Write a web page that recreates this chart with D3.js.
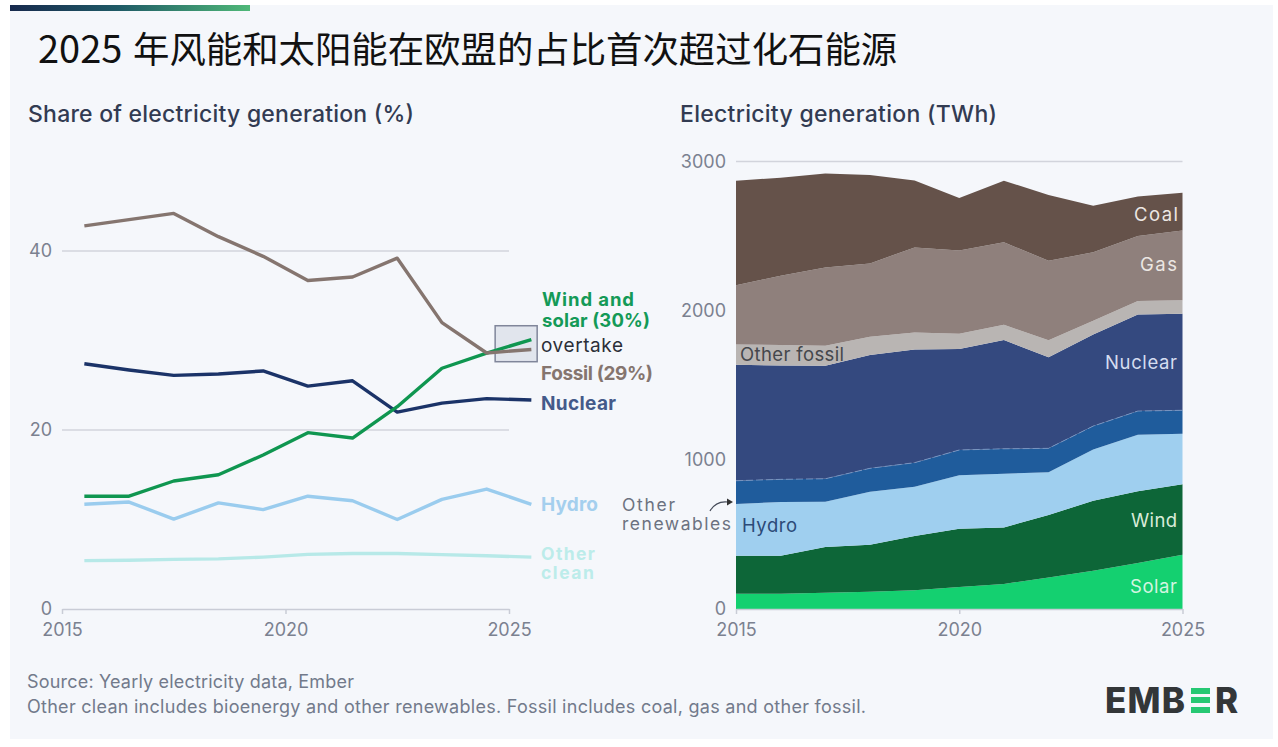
<!DOCTYPE html>
<html>
<head>
<meta charset="utf-8">
<script src="https://cdn.jsdelivr.net/npm/d3@7"></script>
<style>
  body { margin: 0; background: #fff; }
  svg { display: block; }
  text { font-family: Inter, "Noto Sans", sans-serif; }
  .domain { stroke: #c9ccd6; stroke-width: 1.5; }
  .tick line { stroke: #c9ccd6; stroke-width: 1.5; }
  .tick text { fill: #7b8190; font-size: 18px; font-family: Inter, sans-serif; }
</style>
</head>
<body>
<svg id="chart" width="1278" height="747"></svg>
<script>
var years = [2015, 2016, 2017, 2018, 2019, 2020, 2021, 2022, 2023, 2024, 2025];

// left chart, share of generation (%)
var fossilShare = [42.8, 43.5, 44.2, 41.6, 39.4, 36.7, 37.1, 39.2, 32.0, 28.6, 29.0];
var windSolarShare = [12.6, 12.6, 14.3, 15.0, 17.2, 19.7, 19.1, 22.6, 26.9, 28.6, 30.1];
var nuclearShare = [27.4, 26.7, 26.1, 26.25, 26.6, 24.9, 25.5, 22.0, 23.0, 23.5, 23.35];
var hydroShare = [11.7, 11.95, 10.05, 11.85, 11.1, 12.6, 12.1, 10.0, 12.25, 13.4, 11.7];
var otherCleanShare = [5.4, 5.45, 5.55, 5.6, 5.8, 6.1, 6.2, 6.2, 6.07, 5.95, 5.8];

// right chart, generation (TWh)
var solar = [103, 103, 109, 116, 125, 147, 168, 212, 257, 308, 364];
var wind = [254, 254, 306, 315, 364, 391, 379, 418, 469, 481, 472];
var hydro = [347, 360, 304, 355, 331, 358, 360, 286, 344, 379, 339];
var otherRenewables = [156, 152, 154, 157, 161, 170, 167, 161, 156, 159, 157];
var nuclear = [777, 764, 758, 759, 759, 677, 729, 610, 615, 648, 647];
var otherFossil = [137, 136, 134, 123, 114, 102, 103, 114, 91, 89, 90];
var gas = [397, 465, 525, 492, 570, 559, 552, 534, 459, 436, 469];
var coal = [700, 657, 630, 592, 449, 351, 413, 440, 312, 266, 252];

var svg = d3.select("#chart");
var defs = svg.append("defs");

// panel background and top strip
var grad = defs.append("linearGradient").attr("id", "strip");
grad.append("stop").attr("offset", "0%").attr("stop-color", "#17294d");
grad.append("stop").attr("offset", "45%").attr("stop-color", "#1f5a66");
grad.append("stop").attr("offset", "100%").attr("stop-color", "#4fb878");

svg.append("rect").attr("x", 10).attr("y", 5).attr("width", 1263).attr("height", 734).attr("fill", "#f5f7fb");
svg.append("rect").attr("x", 10).attr("y", 5).attr("width", 240).attr("height", 6).attr("fill", "url(#strip)");

var title = svg.append("text").attr("y", 63).attr("fill", "#111")
    .style("font-family", '"Noto Sans CJK SC", sans-serif');
title.append("tspan").attr("x", 38).attr("font-size", 38).text("2025 ");
title.append("tspan").attr("x", 133).attr("font-size", 36.4).text("年风能和太阳能在欧盟的占比首次超过化石能源");

// ---- left chart ----
var xL = d3.scaleLinear().domain([2015, 2025]).range([62, 509]);
var yL = d3.scaleLinear().domain([0, 40]).range([609, 251]);

svg.append("g").attr("transform", "translate(0,609)")
    .call(d3.axisBottom(xL).tickValues([2015, 2020, 2025]).tickFormat(d3.format("d")).tickSize(5).tickPadding(9)
        .tickSizeOuter(0));

var leftY = svg.append("g").attr("transform", "translate(62,0)")
    .call(d3.axisLeft(yL).tickValues([0, 20, 40]).tickSize(0).tickPadding(10));
leftY.select(".domain").remove();

svg.append("g").selectAll("line").data([20, 40]).join("line")
    .attr("x1", xL(2015)).attr("x2", xL(2025))
    .attr("y1", d => yL(d)).attr("y2", d => yL(d))
    .attr("stroke", "#d2d4dc").attr("stroke-width", 1.5);

// overtake box sits under the lines
svg.append("rect")
    .attr("x", xL(2024.69)).attr("width", xL(2025.63) - xL(2024.69))
    .attr("y", yL(31.65)).attr("height", yL(27.63) - yL(31.65))
    .attr("fill", "#e1e5ed").attr("stroke", "#80869a").attr("stroke-width", 1.5);

var line = d3.line().x((d, i) => xL(years[i] + 0.5)).y(d => yL(d));

var lineSeries = [
    { values: otherCleanShare, color: "#b7e9e8" },
    { values: hydroShare, color: "#9accee" },
    { values: nuclearShare, color: "#1b3368" },
    { values: windSolarShare, color: "#0f9650" },
    { values: fossilShare, color: "#85756f" }
];
svg.append("g").selectAll("path").data(lineSeries).join("path")
    .attr("d", d => line(d.values))
    .attr("fill", "none")
    .attr("stroke", d => d.color)
    .attr("stroke-width", 3.4)
    .attr("stroke-linejoin", "round");

// ---- right chart ----
var xR = d3.scaleLinear().domain([2015, 2025]).range([736, 1182.5]);
var yR = d3.scaleLinear().domain([0, 3000]).range([609, 161.5]);

var stackKeys = ["solar", "wind", "hydro", "otherRenewables", "nuclear", "otherFossil", "gas", "coal"];
var stackColors = ["#14d070", "#0d6638", "#9fcfef", "#1f5c9c", "#34497f", "#b9b5b3", "#8f807c", "#65524a"];
var table = years.map((y, i) => ({
    year: y, solar: solar[i], wind: wind[i], hydro: hydro[i], otherRenewables: otherRenewables[i],
    nuclear: nuclear[i], otherFossil: otherFossil[i], gas: gas[i], coal: coal[i]
}));
var layers = d3.stack().keys(stackKeys)(table);

svg.append("line")
    .attr("x1", xR(2015)).attr("x2", xR(2025)).attr("y1", yR(3000)).attr("y2", yR(3000))
    .attr("stroke", "#d2d4dc").attr("stroke-width", 1.5);

var area = d3.area().x(d => xR(d.data.year)).y0(d => yR(d[0])).y1(d => yR(d[1]));
svg.append("g").selectAll("path").data(layers).join("path")
    .attr("d", area)
    .attr("fill", (d, i) => stackColors[i]);

// faint dashed edge on top of other renewables
svg.append("path")
    .attr("d", d3.line().x(d => xR(d.data.year)).y(d => yR(d[1]))(layers[3]))
    .attr("fill", "none").attr("stroke", "#7f9cc8").attr("stroke-width", 0.8).attr("stroke-dasharray", "7 3");

svg.append("g").attr("transform", "translate(0,609)")
    .call(d3.axisBottom(xR).tickValues([2015, 2020, 2025]).tickFormat(d3.format("d")).tickSize(5).tickPadding(9)
        .tickSizeOuter(0));

var rightY = svg.append("g").attr("transform", "translate(736,0)")
    .call(d3.axisLeft(yR).tickValues([0, 1000, 2000, 3000]).tickFormat(d3.format("d")).tickSize(0).tickPadding(10));
rightY.select(".domain").remove();

// arrow for other renewables
svg.append("path").attr("d", "M710,511 C714,504 720,501 728,502")
    .attr("fill", "none").attr("stroke", "#444a58").attr("stroke-width", 1.2);
svg.append("path").attr("d", "M727,498.5 L733,502 L727,505.5 Z").attr("fill", "#333");

// ---- text ----
var labels = [
    ["Share of electricity generation (%)", 28, 122, 23, 500, "#323b52", 386],
    ["Electricity generation (TWh)", 680, 122, 23, 500, "#323b52", 317],
    ["Wind and", 542, 306, 18.5, 700, "#149a57", 92],
    ["solar (30%)", 542, 327, 18.5, 700, "#149a57", 108],
    ["overtake", 541, 352, 19, 400, "#2c2f38", 82],
    ["Fossil (29%)", 541, 380, 19, 700, "#85756f", 112],
    ["Nuclear", 541, 410, 19, 700, "#445a8a", 75],
    ["Hydro", 541, 511, 19, 700, "#a4cfee", 57],
    ["Other", 541, 560, 17.5, 700, "#bcecea", 54],
    ["clean", 541, 579, 17.5, 700, "#bcecea", 53],
    ["Other", 622, 511, 17.5, 400, "#6c7280", 53],
    ["renewables", 622, 530, 17.5, 400, "#6c7280", 109],
    ["Coal", 1134, 221, 18.5, 400, "#ece7e3", 44],
    ["Gas", 1140, 271, 18.5, 400, "#ece7e3", 37],
    ["Other fossil", 740, 361, 18.5, 400, "#45474c", 104],
    ["Nuclear", 1105, 369, 18.5, 400, "#d5ddf0", 72],
    ["Hydro", 742, 532, 18.5, 400, "#2c4a78", 55],
    ["Wind", 1131, 527, 18.5, 400, "#d9ecd9", 46],
    ["Solar", 1130, 593, 18.5, 400, "#d3f5e0", 47],
    ["Source: Yearly electricity data, Ember", 27, 688, 18, 400, "#727a8b", 327],
    ["Other clean includes bioenergy and other renewables. Fossil includes coal, gas and other fossil.", 27, 713, 18, 400, "#727a8b", 839]
];
svg.append("g").selectAll("text").data(labels).join("text")
    .attr("x", d => d[1]).attr("y", d => d[2])
    .attr("font-size", d => d[3]).attr("font-weight", d => d[4])
    .attr("fill", d => d[5])
    .attr("textLength", d => d[6]).attr("lengthAdjust", "spacing")
    .text(d => d[0]);

// logo, middle E is three green bars
var logo = svg.append("g").attr("fill", "#333638").attr("font-weight", 800).attr("font-size", 35);
logo.append("text").attr("x", 1105).attr("y", 713).attr("textLength", 80).text("EMB");
logo.append("text").attr("x", 1215).attr("y", 713).attr("textLength", 24).text("R");
svg.append("g").selectAll("rect").data([688, 697, 707]).join("rect")
    .attr("x", 1191).attr("y", d => d).attr("width", 19).attr("height", 6).attr("fill", "#26c873");
</script>
</body>
</html>
